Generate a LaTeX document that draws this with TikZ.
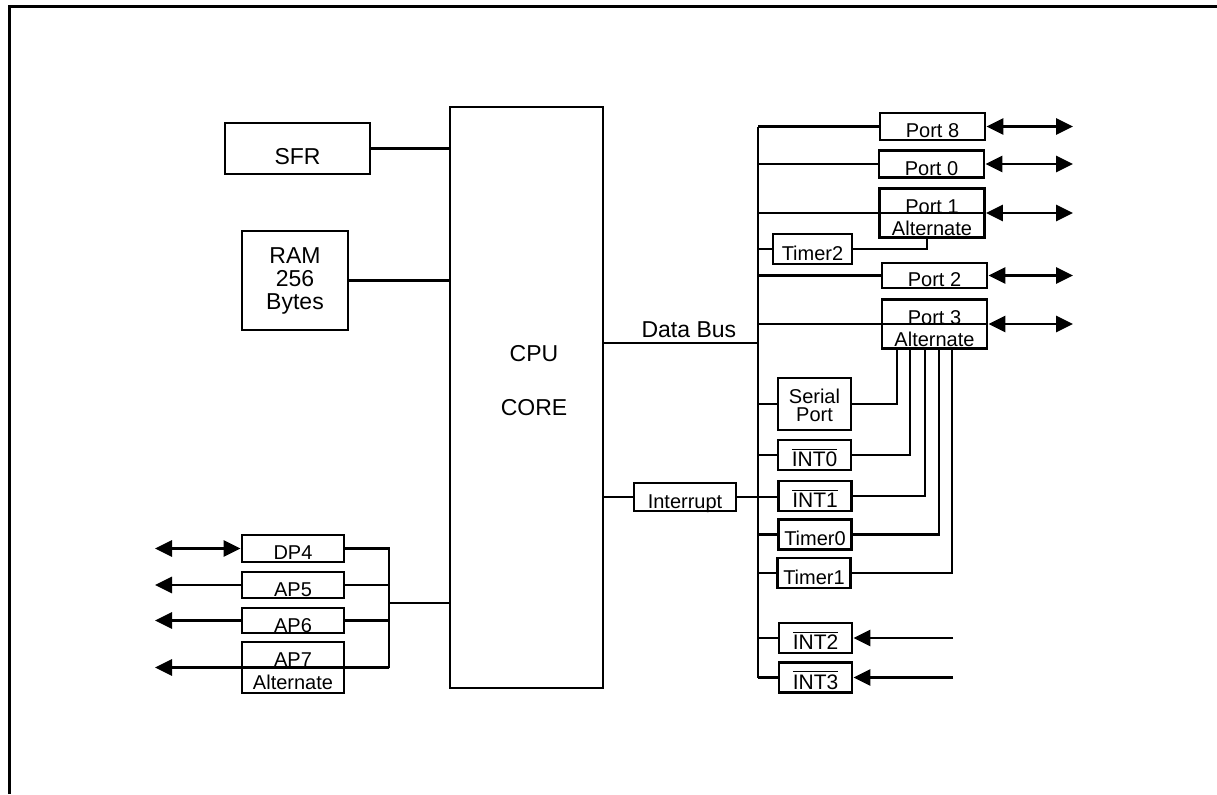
\documentclass[tikz,border=0pt]{standalone}
\usepackage{fontspec}
\setmainfont{Liberation Sans}
\usetikzlibrary{arrows.meta,calc}

\newcommand{\negbar}[1]{$\overline{\mbox{#1}}$}
\newcommand{\lowstrut}[1]{\rule{0pt}{#1}}

\begin{document}
\begin{tikzpicture}[x=0.5pt,y=-0.5pt,line width=1.4pt,
box/.style={draw,rectangle,line width=1.4pt,inner sep=0pt,align=center},
low/.style={text height=11pt,text depth=0pt},
port/.style={box,low,minimum width=52.5pt,minimum height=13.5pt,font=\fontsize{10}{11}\selectfont},
altport/.style={box,minimum width=52.5pt,minimum height=24.5pt,font=\fontsize{10}{11}\selectfont},
unit/.style={box,low,minimum width=36.5pt,minimum height=15pt,font=\fontsize{10}{9}\selectfont},
intbox/.style={unit,text height=11.5pt,font=\fontsize{10.5}{11}\selectfont},
apbox/.style={box,low,minimum width=51pt,minimum height=13pt,font=\fontsize{10}{11}\selectfont},
big/.style={font=\fontsize{11.5}{11.5}\selectfont},
arr/.style={-{Triangle[length=8.5pt,width=8pt]}},
darr/.style={{Triangle[length=8.5pt,width=8pt]}-{Triangle[length=8.5pt,width=8pt]}}]
\useasboundingbox (0,0) rectangle (1217,794);
\draw[line width=1.5pt] (9,794) -- (9,6) -- (1217,6);

% memory and core
\node (sfr) [box,big,text height=15.5pt,text depth=0pt,minimum width=72.5pt,minimum height=25.5pt] at (297.5,148.5) {SFR};
\node (ram) [box,big,minimum width=53pt,minimum height=49.5pt] at (295,280.5) {RAM\\256\\Bytes};
\node (cpu) [box,minimum width=76.5pt,minimum height=290.5pt] at (526.5,397.5) {};
\node (cputxt) [big] at (534,354) {CPU};
\node (coretxt) [big] at (534,408) {CORE};
\draw (sfr.east) -- (sfr.east -| cpu.west);
\draw (ram.east) -- (ram.east -| cpu.west);

% right side
\coordinate (busx) at (758,0);
\coordinate (rtip) at (1073,0);
\coordinate (inend) at (953,0);
\node (port8) [port] at (932.5,126.5) {Port 8};
\node (port0) [port] at (931.5,164) {Port 0};
\node (port1) [altport] at (932,213) {\lowstrut{12pt}Port 1\\Alternate};
\node (timer2) [unit,minimum width=39.5pt] at (812.5,249) {Timer2};
\node (port2) [port,minimum height=12.5pt] at (934.5,275.5) {Port 2};
\node (port3) [altport] at (934.5,324) {\lowstrut{12pt}Port 3\\Alternate};
\node (serial) [box,minimum width=36.5pt,minimum height=26pt,font=\fontsize{10}{9}\selectfont] at (814.5,404) {\lowstrut{9pt}Serial\\Port};
\node (int0) [intbox] at (814.5,455) {\negbar{INT0}};
\node (int1) [intbox] at (815,496) {\negbar{INT1}};
\node (timer0) [unit] at (815,534.5) {Timer0};
\node (timer1) [unit] at (814,573) {Timer1};
\node (int2) [intbox] at (815.5,638) {\negbar{INT2}};
\node (int3) [intbox] at (815.5,677.5) {\negbar{INT3}};
\node (intr) [box,low,minimum width=51pt,minimum height=14pt,font=\fontsize{10}{11}\selectfont] at (685,497) {Interrupt};

\draw (port8.west -| busx) -- (int3.west -| busx);
\draw (port8.west -| busx) -- (port8.west);
\foreach \n in {port0,timer2,port2,serial,int0,timer0,timer1,int2,int3}
  \draw (\n.west -| busx) -- (\n.west);
\draw (port1.west -| busx) -- (port1.east);
\draw (port3.west -| busx) -- (port3.east);
\foreach \n in {port8,port0,port1,port2,port3}
  \draw[darr] (\n.east) -- (\n.east -| rtip);
\draw[arr] (inend |- int2) -- (int2.east);
\draw[arr] (inend |- int3) -- (int3.east);

\coordinate (db) at (758,343);
\draw (db -| cpu.east) -- node[pos=0.55,above,inner sep=2pt,font=\fontsize{11.5}{12}\selectfont] {Data Bus} (db);
\draw (intr.west -| cpu.east) -- (intr.west);
\draw (intr.east) -- (int1.west |- intr.east);

% alternate functions
\draw (timer2.east) -| ([xshift=-2.5pt]port1.south);
\draw (serial.east) -| ([xshift=-18.75pt]port3.south);
\draw (int0.east) -| ([xshift=-12.25pt]port3.south);
\draw (int1.east) -| ([xshift=-4.75pt]port3.south);
\draw (timer0.east) -| ([xshift=2.25pt]port3.south);
\draw (timer1.east) -| ([xshift=8.75pt]port3.south);

% left side
\coordinate (lbus) at (389,603);
\coordinate (ltip) at (155,0);
\node (dp4) [apbox,minimum height=13.5pt] at (293,548.5) {DP4};
\node (ap5) [apbox] at (293,585) {AP5};
\node (ap6) [apbox,minimum height=12.5pt,text height=12pt] at (293,620.5) {AP6};
\node (ap7) [box,minimum width=51pt,minimum height=25.5pt,font=\fontsize{10}{11.5}\selectfont] at (293,667.5) {\lowstrut{10.5pt}AP7\\Alternate};
\draw (dp4.east) -| (lbus |- ap7.east);
\draw (ap5.east) -- (ap5.east -| lbus);
\draw (ap6.east) -- (ap6.east -| lbus);
\draw (lbus) -- (lbus -| cpu.west);
\draw[arr] (lbus |- ap7.east) -- (ltip |- ap7.east);
\draw[darr] (ltip |- dp4.west) -- (dp4.west);
\draw[arr] (ap5.west) -- (ltip |- ap5.west);
\draw[arr] (ap6.west) -- (ltip |- ap6.west);
\end{tikzpicture}
\end{document}
